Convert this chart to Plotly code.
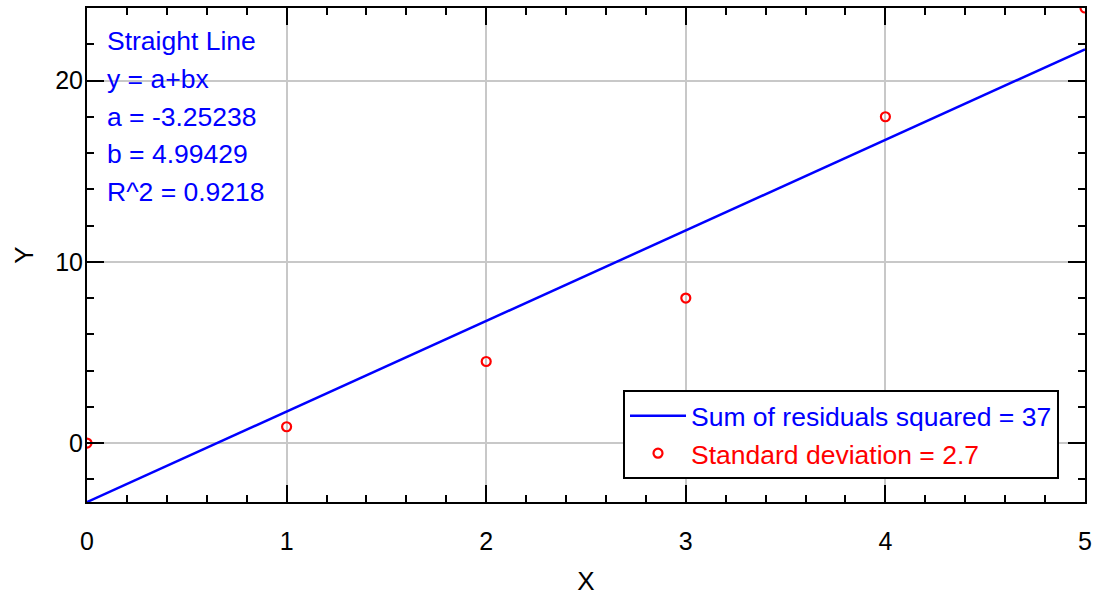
import plotly.graph_objects as go

# Data
x_data = [0, 1, 2, 3, 4, 5]
y_data = [0, 0.9, 4.5, 8, 18, 24]
fit_a = -3.25238
fit_b = 4.99429
fit_x = [0, 5]
fit_y = [fit_a + fit_b * v for v in fit_x]
info_lines = ["Straight Line", "y = a+bx", "a = -3.25238", "b = 4.99429", "R^2 = 0.9218"]
line_name = "Sum of residuals squared = 37"
marker_name = "Standard deviation = 2.7"

FONT = "Liberation Sans, Arial, sans-serif"
W, H = 1097, 599
ML, MR, MT, MB = 87, 12, 8, 97
PW = W - ML - MR
PH = H - MT - MB

fig = go.Figure()
fig.add_trace(go.Scatter(
    x=fit_x, y=fit_y, mode="lines",
    line=dict(color="#0000ff", width=2.5),
    name="<span style='color:#0000ff'>" + line_name + "</span>",
))
fig.add_trace(go.Scatter(
    x=x_data, y=y_data, mode="markers",
    marker=dict(symbol="circle-open", size=9, color="#ff0000", line=dict(width=2.2, color="#ff0000")),
    name="<span style='color:#ff0000'>" + marker_name + "</span>",
))

centers = [41, 79, 117, 154, 192]
for txt, c in zip(info_lines, centers):
    fig.add_annotation(
        text=txt, xref="paper", yref="paper",
        x=(105 - ML) / PW, y=(H - MB - c) / PH,
        xanchor="left", yanchor="middle", showarrow=False,
        font=dict(family=FONT, size=26.5, color="#0000ff"),
    )

axis_common = dict(
    showline=True, linecolor="black", linewidth=2, mirror="ticks",
    ticks="inside", ticklen=17, tickwidth=2, tickcolor="black",
    showgrid=True, gridcolor="#c8c8c8", gridwidth=2, zeroline=False,
    tickfont=dict(family=FONT, size=25, color="black"),
)

fig.update_xaxes(
    range=[0, 5], dtick=1, tick0=0,
    minor=dict(dtick=0.2, ticks="inside", ticklen=7, tickwidth=2, tickcolor="black", showgrid=False),
    title=dict(text="X", font=dict(family=FONT, size=26, color="black"), standoff=18),
    ticklabelstandoff=16,
    **axis_common,
)
fig.update_yaxes(
    range=[-3.25, 24], dtick=10, tick0=0,
    minor=dict(dtick=2, ticks="inside", ticklen=7, tickwidth=2, tickcolor="black", showgrid=False),
    title=dict(text="Y", font=dict(family=FONT, size=26, color="black"), standoff=14),
    ticklabelstandoff=-3,
    **axis_common,
)

fig.update_layout(
    width=W, height=H,
    margin=dict(l=ML, r=MR, t=MT, b=MB, autoexpand=False),
    paper_bgcolor="white", plot_bgcolor="white",
    font=dict(family=FONT, size=26, color="black"),
    showlegend=True,
    legend=dict(
        x=(1059 - ML) / PW, y=(H - MB - 479) / PH,
        xanchor="right", yanchor="bottom",
        bgcolor="white", bordercolor="black", borderwidth=2,
        itemwidth=56,
        font=dict(family=FONT, size=26.5),
    ),
)

fig.write_html(
    "out.html",
    config={"displayModeBar": False},
    post_script="document.body.style.margin='0';document.body.style.padding='0';",
)
